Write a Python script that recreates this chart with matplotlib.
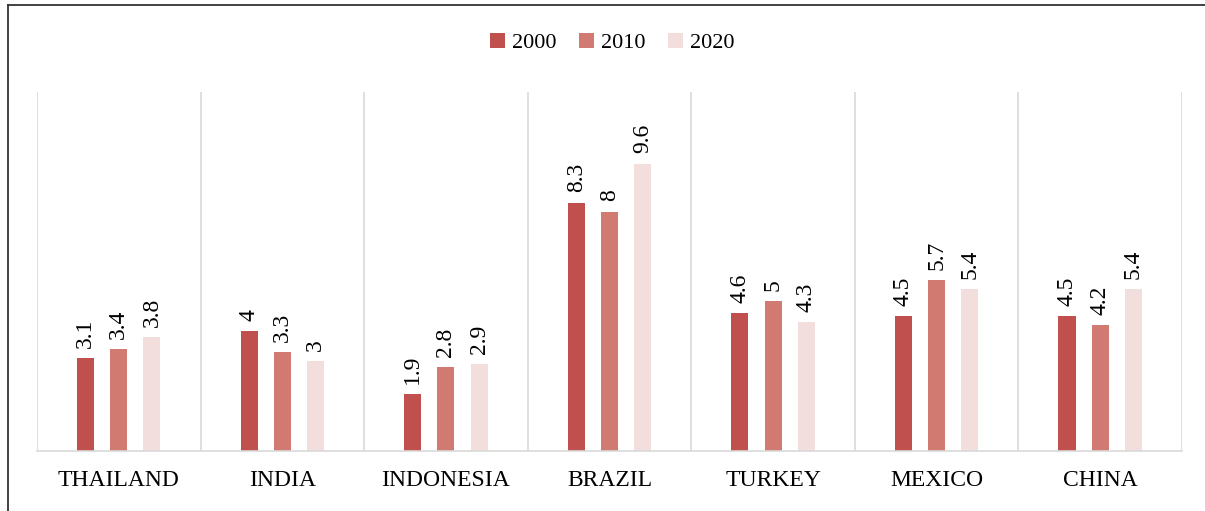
import numpy as np
import matplotlib.pyplot as plt
from matplotlib.lines import Line2D

plt.rcParams['font.family'] = ['Liberation Serif', 'DejaVu Serif']

# --- Données ---
countries = ["THAILAND", "INDIA", "INDONESIA", "BRAZIL", "TURKEY", "MEXICO", "CHINA"]
years = ["2000", "2010", "2020"]
v2000 = [3.1, 4, 1.9, 8.3, 4.6, 4.5, 4.5]
v2010 = [3.4, 3.3, 2.8, 8, 5, 5.7, 4.2]
v2020 = [3.8, 3, 2.9, 9.6, 4.3, 5.4, 5.4]
colors = ["#C0504D", "#D07A71", "#F2DEDC"]

fig = plt.figure(figsize=(12.05, 5.11), dpi=100)
ax = fig.add_axes([0.0307, 0.1174, 0.9502, 0.7026])

x = np.arange(len(countries))
width = 0.104
step = 0.203
for i, (vals, year, c) in enumerate(zip([v2000, v2010, v2020], years, colors)):
    pos = x + (i - 1) * step
    bars = ax.bar(pos, vals, width, color=c, label=year, zorder=2)
    for b, v in zip(bars, vals):
        ax.text(b.get_x() + b.get_width() / 2, v + 0.35, f"{v:g}",
                rotation=90, ha="center", va="bottom", fontsize=17)

ax.set_xlim(-0.5, len(countries) - 0.5)
ax.set_ylim(0, 12)
ax.set_yticks([])
ax.set_xticks(x)
ax.set_xticklabels(countries, fontsize=17)
ax.tick_params(axis="x", length=0, pad=14)

# séparateurs verticaux entre pays
for s in np.arange(-0.5, len(countries), 1):
    ax.axvline(s, color="#D9D9D9", lw=1.2, zorder=1)
for side in ["top", "right", "left"]:
    ax.spines[side].set_visible(False)
ax.spines["bottom"].set_color("#D9D9D9")
ax.spines["bottom"].set_linewidth(1.2)

fig.legend(loc="upper center", bbox_to_anchor=(0.508, 0.975), ncol=3, frameon=False,
           fontsize=16, handlelength=0.7, handleheight=0.7, handletextpad=0.3,
           columnspacing=1.0)

# cadre (haut et gauche)
fig.add_artist(Line2D([8 / 1205, 1], [1 - 5 / 511, 1 - 5 / 511], color="#333333", lw=1.3))
fig.add_artist(Line2D([8 / 1205, 8 / 1205], [0, 1 - 5 / 511], color="#333333", lw=1.3))

fig.savefig("out.png", dpi=100)
